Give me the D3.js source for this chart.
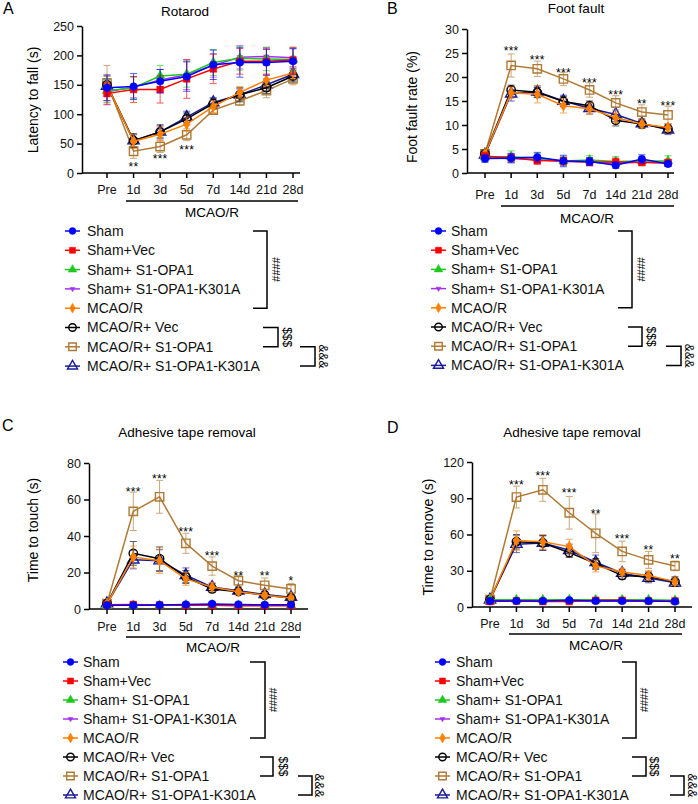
<!DOCTYPE html>
<meta charset="utf-8">
<style>
body { margin: 0; background: #fff; }
svg { font-family: "Liberation Sans", Arial, sans-serif; }
.axis path, .axis line { stroke: #000; stroke-width: 1.5px; }
.axis text { font-size: 12.5px; fill: #111; }
</style>
<svg width="698" height="804"></svg>
<script src="https://d3js.org/d3.v7.min.js"></script>
<script>
// time points and groups
var days = ["Pre", "1d", "3d", "5d", "7d", "14d", "21d", "28d"];
var groups = ["Sham", "Sham+Vec", "Sham+ S1-OPA1", "Sham+ S1-OPA1-K301A", "MCAO/R",
  "MCAO/R+ Vec", "MCAO/R+ S1-OPA1", "MCAO/R+ S1-OPA1-K301A"];
var groupColors = ["#0000ff", "#ff0000", "#1ec81e", "#a52ff0", "#ff8000", "#000000", "#b07a35", "#1a1a9c"];

// A rotarod (s)
var rotarodMean = [
  [145, 147, 156, 164, 184, 188, 188, 190],
  [135, 142, 142, 160, 177, 190, 190, 192],
  [140, 145, 165, 168, 188, 195, 194, 193],
  [138, 146, 158, 167, 183, 197, 198, 196],
  [150, 54, 66, 83, 113, 137, 158, 170],
  [150, 55, 70, 92, 118, 133, 145, 165],
  [153, 37, 45, 65, 107, 123, 140, 160],
  [148, 55, 70, 95, 120, 133, 150, 168]];
var rotarodErr = [
  [22, 22, 20, 25, 25, 25, 22, 22],
  [18, 22, 23, 33, 25, 22, 22, 22],
  [20, 18, 18, 22, 22, 20, 20, 20],
  [22, 18, 18, 25, 20, 20, 15, 15],
  [15, 12, 12, 12, 10, 10, 10, 10],
  [15, 12, 12, 10, 8, 12, 10, 10],
  [30, 12, 10, 10, 6, 8, 12, 10],
  [12, 10, 10, 10, 8, 10, 10, 10]];
var rotarodStars = [["1d", "**", 15], ["3d", "***", 29], ["5d", "***", 44]];

// B foot fault (%)
var footMean = [
  [3.0, 3.1, 3.3, 2.5, 2.4, 1.6, 2.9, 1.9],
  [3.5, 3.2, 2.6, 2.5, 2.3, 2.3, 2.2, 2.2],
  [3.3, 3.4, 3.1, 2.5, 2.7, 2.4, 2.5, 2.5],
  [3.2, 3.0, 2.8, 2.4, 2.3, 2.0, 2.3, 2.0],
  [4.0, 16.7, 16.4, 14.0, 13.4, 11.5, 10.2, 9.5],
  [4.0, 17.3, 16.8, 14.9, 14.0, 11.0, 10.2, 9.2],
  [4.0, 22.4, 21.7, 19.6, 17.3, 14.6, 12.7, 12.1],
  [3.8, 16.5, 16.9, 15.0, 13.5, 12.2, 10.3, 9.0]];
var footErr = [
  [0.8, 1.0, 1.0, 1.2, 0.8, 0.6, 0.9, 0.5],
  [0.8, 0.8, 0.8, 0.8, 0.8, 0.8, 0.6, 0.6],
  [0.8, 1.2, 1.0, 1.0, 0.9, 1.0, 1.0, 1.1],
  [0.8, 0.8, 0.8, 0.8, 0.8, 0.6, 0.6, 0.6],
  [0.8, 1.2, 1.8, 1.5, 1.2, 1.0, 0.8, 0.8],
  [0.8, 1.0, 1.0, 1.0, 1.0, 1.2, 0.8, 0.8],
  [0.8, 2.4, 1.6, 1.4, 1.5, 1.5, 1.5, 1.8],
  [0.8, 1.5, 1.2, 1.2, 1.2, 1.5, 1.0, 1.0]];
var footStars = [["1d", "***", 26], ["3d", "***", 24.2], ["5d", "***", 21.6], ["7d", "***", 19.4],
  ["14d", "***", 16.9], ["21d", "**", 15], ["28d", "***", 14.6]];

// C time to touch (s)
var touchMean = [
  [2, 2, 2.2, 2.5, 2.8, 2.5, 2.3, 2.3],
  [2.3, 2.5, 2.2, 2, 2, 1.8, 1.8, 1.8],
  [2, 2, 2, 2.2, 2.2, 2, 2, 2],
  [2, 2, 2, 2, 2, 2, 2, 2],
  [3, 28.5, 26.5, 16.5, 12, 9.5, 7.5, 6],
  [3, 30.5, 27.5, 17.5, 11, 9.5, 7.5, 6],
  [3, 53.5, 61.5, 36, 23.5, 15.5, 13, 11],
  [3, 27, 26.5, 18.5, 12, 10, 8, 6.5]];
var touchErr = [
  [0.7, 0.7, 0.7, 0.7, 0.8, 0.7, 0.7, 0.7],
  [0.7, 0.7, 0.7, 0.7, 0.7, 0.7, 0.7, 0.7],
  [0.7, 0.7, 0.7, 0.7, 0.7, 0.7, 0.7, 0.7],
  [0.7, 0.7, 0.7, 0.7, 0.7, 0.7, 0.7, 0.7],
  [1, 6, 7, 3.5, 2.5, 1.5, 1.5, 1.2],
  [1, 6.5, 6.5, 3.5, 2, 1.5, 1.5, 1.5],
  [1, 10.5, 9, 5.5, 5, 3, 4, 3],
  [1, 5, 6, 4, 2, 2, 1.5, 1.5]];
var touchStars = [["1d", "***", 66], ["3d", "***", 73], ["5d", "***", 44], ["7d", "***", 31],
  ["14d", "**", 20], ["21d", "**", 20], ["28d", "*", 17]];

// D time to remove (s)
var removeMean = [
  [5, 5, 5, 5.5, 5, 5, 5, 4.5],
  [4.5, 5, 4.5, 4.5, 5.5, 5.5, 5, 5],
  [6, 6, 6, 6, 6, 6, 6, 5.5],
  [5, 5, 5, 5, 5, 5, 5, 5],
  [6, 55, 54, 50, 34, 29, 26, 21],
  [6, 54, 53, 45, 36, 26, 25, 21],
  [6, 91, 97, 78, 61, 46, 39, 34],
  [6, 52, 53, 47, 37, 28, 24, 20]];
var removeErr = [
  [1, 1, 1, 1, 1, 1, 1, 1],
  [1, 1, 1, 1, 1, 1, 1, 1],
  [1, 1, 1, 1, 1, 1, 1, 1],
  [1, 1, 1, 1, 1, 1, 1, 1],
  [1, 8, 6, 6, 5, 3, 4, 3],
  [1, 6, 6, 4, 4, 3, 4, 4],
  [1, 9, 9.5, 13.5, 16, 8.5, 7, 4],
  [1, 7, 6, 5, 6, 3, 4, 3]];
var removeStars = [["1d", "***", 104], ["3d", "***", 111], ["5d", "***", 97], ["7d", "**", 80],
  ["14d", "***", 59], ["21d", "**", 50], ["28d", "**", 42]];

var svg = d3.select("svg");

// downward triangle
var symbolTriDown = { draw: function(ctx, size) {
  var s = Math.sqrt(size / (3 * Math.sqrt(3) / 4));
  var h = s * Math.sqrt(3) / 2;
  ctx.moveTo(-s / 2, -h / 3);
  ctx.lineTo(s / 2, -h / 3);
  ctx.lineTo(0, 2 * h / 3);
  ctx.closePath();
} };
var shapes = [
  { t: d3.symbolCircle, s: 45, open: false },
  { t: d3.symbolSquare, s: 45, open: false },
  { t: d3.symbolTriangle, s: 40, open: false },
  { t: symbolTriDown, s: 40, open: false },
  { t: d3.symbolDiamond, s: 35, open: false },
  { t: d3.symbolCircle, s: 55, open: true },
  { t: d3.symbolSquare, s: 70, open: true },
  { t: d3.symbolTriangle, s: 55, open: true }];

function marker(sel, i, scale) {
  var sh = shapes[i];
  sel.append("path")
    .attr("d", d3.symbol().type(sh.t).size(sh.s * (scale || 1)))
    .attr("fill", sh.open ? "none" : groupColors[i])
    .attr("stroke", groupColors[i])
    .attr("stroke-width", sh.open ? 1.4 : 0.5);
}

function drawPanel(p) {
  var g = svg.append("g");
  var x = d3.scalePoint().domain(days).range(p.xr);
  var y = d3.scaleLinear().domain(p.dom).range(p.yr);

  g.append("text").attr("x", p.letter[0]).attr("y", p.letter[1]).attr("font-size", 16).text(p.letterText);
  g.append("text").attr("x", p.title[0]).attr("y", p.title[1]).attr("text-anchor", "middle")
    .attr("font-size", 13.5).text(p.titleText);
  g.append("text").attr("transform", "translate(" + p.ylab[0] + "," + p.ylab[1] + ") rotate(-90)")
    .attr("text-anchor", "middle").attr("font-size", 14).text(p.ylabText);

  // y axis
  g.append("g").attr("class", "axis").attr("transform", "translate(" + p.axisX + ",0)")
    .call(d3.axisLeft(y).tickValues(p.ticks).tickSize(5).tickPadding(3).tickSizeOuter(0));
  // x axis
  var xa = g.append("g").attr("transform", "translate(0," + y(0) + ")");
  xa.append("line").attr("x1", p.axisX).attr("x2", p.axisEnd).attr("stroke", "#000").attr("stroke-width", 1.5);
  xa.selectAll(".tk").data(days).enter().append("line")
    .attr("x1", function(d) { return x(d); }).attr("x2", function(d) { return x(d); })
    .attr("y1", 0).attr("y2", 5).attr("stroke", "#000").attr("stroke-width", 1.5);
  g.selectAll(".xl").data(days).enter().append("text")
    .attr("x", function(d) { return x(d); }).attr("y", p.tickY).attr("dy", "0.35em")
    .attr("text-anchor", "middle").attr("font-size", 12.5).attr("fill", "#111").text(function(d) { return d; });
  g.append("line").attr("x1", p.under[0]).attr("x2", p.under[1]).attr("y1", p.under[2]).attr("y2", p.under[2])
    .attr("stroke", "#000").attr("stroke-width", 1.3);
  g.append("text").attr("x", p.mcao[0]).attr("y", p.mcao[1]).attr("dy", "0.35em")
    .attr("text-anchor", "middle").attr("font-size", 13.5).text("MCAO/R");

  // series, last group drawn first
  for (var i = groups.length - 1; i >= 0; i--) {
    var pts = days.map(function(d, j) { return { d: d, v: p.mean[i][j], e: p.err[i][j] }; });
    var sg = g.append("g");
    var eb = sg.selectAll(".eb").data(pts).enter().append("g").attr("stroke", groupColors[i])
      .attr("stroke-width", 1).attr("opacity", 0.65);
    eb.append("line").attr("x1", function(d) { return x(d.d); }).attr("x2", function(d) { return x(d.d); })
      .attr("y1", function(d) { return y(d.v - d.e); }).attr("y2", function(d) { return y(d.v + d.e); });
    eb.append("line").attr("x1", function(d) { return x(d.d) - 3.5; }).attr("x2", function(d) { return x(d.d) + 3.5; })
      .attr("y1", function(d) { return y(d.v + d.e); }).attr("y2", function(d) { return y(d.v + d.e); });
    eb.append("line").attr("x1", function(d) { return x(d.d) - 3.5; }).attr("x2", function(d) { return x(d.d) + 3.5; })
      .attr("y1", function(d) { return y(d.v - d.e); }).attr("y2", function(d) { return y(d.v - d.e); });
    sg.append("path").datum(pts)
      .attr("d", d3.line().x(function(d) { return x(d.d); }).y(function(d) { return y(d.v); }))
      .attr("fill", "none").attr("stroke", groupColors[i]).attr("stroke-width", 1.5);
    var mk = sg.selectAll(".mk").data(pts).enter().append("g")
      .attr("transform", function(d) { return "translate(" + x(d.d) + "," + y(d.v) + ")"; });
    marker(mk, i);
  }

  g.selectAll(".st").data(p.stars).enter().append("text")
    .attr("x", function(d) { return x(d[0]); }).attr("y", function(d) { return y(d[2]); })
    .attr("dy", "0.6em").attr("text-anchor", "middle").attr("font-size", 12).attr("letter-spacing", "0.3px")
    .text(function(d) { return d[1]; });

  // legend
  var lg = g.append("g");
  groups.forEach(function(name, i) {
    var ry = p.leg.y0 + i * p.leg.step;
    lg.append("line").attr("x1", p.leg.sx).attr("x2", p.leg.sx + 15).attr("y1", ry).attr("y2", ry)
      .attr("stroke", groupColors[i]).attr("stroke-width", 1.5);
    var m = lg.append("g").attr("transform", "translate(" + (p.leg.sx + 7.5) + "," + ry + ")");
    marker(m, i, 0.8);
    lg.append("text").attr("x", p.leg.tx).attr("y", ry).attr("dy", "0.35em").attr("font-size", 14)
      .attr("fill", "#111").text(name);
  });
  function bracket(a, b, x0, x1, tx, label, fs) {
    var ya = p.leg.y0 + a * p.leg.step, yb = p.leg.y0 + b * p.leg.step;
    lg.append("path").attr("d", "M" + x0 + "," + ya + "H" + x1 + "V" + yb + "H" + x0)
      .attr("fill", "none").attr("stroke", "#000").attr("stroke-width", 1.5);
    lg.append("text").attr("transform", "translate(" + tx + "," + ((ya + yb) / 2) + ") rotate(90)")
      .attr("text-anchor", "middle").attr("dy", "0.35em").attr("font-size", fs).text(label);
  }
  bracket(0, 4, p.leg.h[0], p.leg.h[1], p.leg.h[2], "####", 11);
  bracket(5, 6, p.leg.d[0], p.leg.d[1], p.leg.d[2], "$$$", 12);
  bracket(6, 7, p.leg.a[0], p.leg.a[1], p.leg.a[2], "&&&", 12);
}

drawPanel({
  letterText: "A", letter: [3, 14], titleText: "Rotarod", title: [185, 16],
  ylabText: "Latency to fall (s)", ylab: [38, 100],
  axisX: 82, axisEnd: 300, xr: [107, 293], yr: [173, 26], dom: [0, 250], ticks: [0, 50, 100, 150, 200, 250],
  tickY: 190, under: [126, 298, 201], mcao: [212, 212],
  mean: rotarodMean, err: rotarodErr, stars: rotarodStars,
  leg: { sx: 65, tx: 87, y0: 231, step: 19.3, h: [253, 267, 276], d: [263, 278, 287], a: [300, 315, 323] }
});
drawPanel({
  letterText: "B", letter: [387, 14], titleText: "Foot fault", title: [576, 13],
  ylabText: "Foot fault rate (%)", ylab: [417, 107],
  axisX: 467, axisEnd: 674, xr: [485, 668], yr: [173, 29], dom: [0, 30], ticks: [0, 5, 10, 15, 20, 25, 30],
  tickY: 195, under: [501, 674, 206], mcao: [587, 218],
  mean: footMean, err: footErr, stars: footStars,
  leg: { sx: 431, tx: 451, y0: 231, step: 19.2, h: [618, 632, 641], d: [628, 642, 651], a: [666, 681, 689] }
});
drawPanel({
  letterText: "C", letter: [2, 431], titleText: "Adhesive tape removal", title: [187, 437],
  ylabText: "Time to touch (s)", ylab: [38, 530],
  axisX: 89, axisEnd: 308, xr: [107, 291], yr: [609, 463], dom: [0, 80], ticks: [0, 20, 40, 60, 80],
  tickY: 627, under: [126, 300, 637], mcao: [213, 647],
  mean: touchMean, err: touchErr, stars: touchStars,
  leg: { sx: 63, tx: 83, y0: 662, step: 19.0, h: [250, 265, 273], d: [260, 273, 283], a: [298, 312, 319] }
});
drawPanel({
  letterText: "D", letter: [387, 433], titleText: "Adhesive tape removal", title: [572, 437],
  ylabText: "Time to remove (s)", ylab: [433, 537],
  axisX: 472, axisEnd: 692, xr: [490, 675], yr: [607, 462], dom: [0, 120], ticks: [0, 30, 60, 90, 120],
  tickY: 624, under: [509, 682, 634], mcao: [596, 645],
  mean: removeMean, err: removeErr, stars: removeStars,
  leg: { sx: 435, tx: 456, y0: 662, step: 19.0, h: [622, 636, 644], d: [632, 646, 654], a: [670, 684, 692] }
});
</script>
